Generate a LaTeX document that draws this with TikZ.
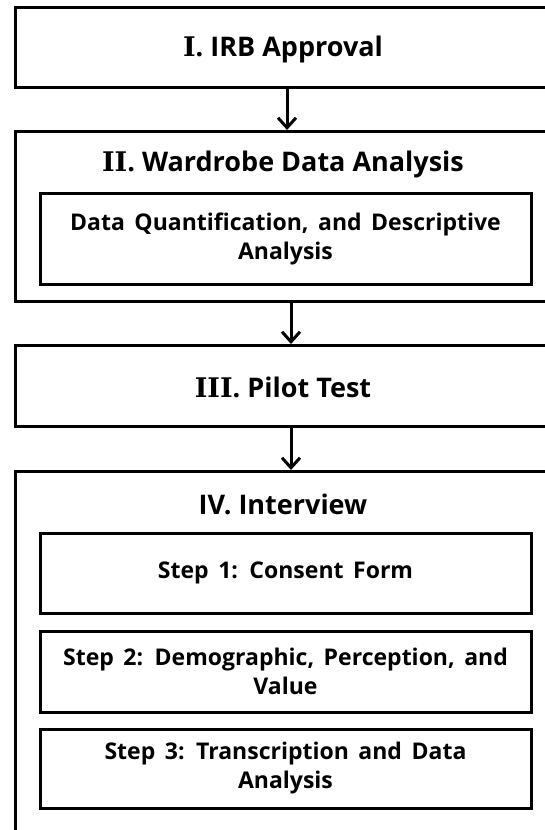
\documentclass[tikz,border=0pt]{standalone}
\usepackage{fontspec}
\setmainfont{Open Sans}
\newfontfamily\widefont{Open Sans}[WordSpace=1.6]
\newfontfamily\numfont{DejaVu Serif}
\usetikzlibrary{arrows.meta}
\newcommand{\rnum}[1]{{\numfont\bfseries #1}}
\begin{document}
\begin{tikzpicture}[x=1pt,y=-1pt,
  stage/.style={draw, line width=3pt, rectangle, inner sep=0pt,
    anchor=north west, minimum width=560pt},
  substage/.style={draw, line width=3pt, rectangle, inner sep=0pt,
    minimum width=491pt, align=center, font=\widefont\bfseries\fontsize{23}{29}\selectfont},
  stagetitle/.style={anchor=base, inner sep=0pt, font=\bfseries\fontsize{27}{32}\selectfont},
  flow/.style={line width=3pt, -{Straight Barb[length=10pt,width=18pt]}}]
\useasboundingbox (0,0) rectangle (545,830);
\fill[white] (0,0) rectangle (545,830);
\clip (0,0) rectangle (545,830);

% outer stages (they run past the right and bottom edges)
\node[stage, minimum height=80pt]  (s1) at (13.5,6)   {};
\node[stage, minimum height=170pt] (s2) at (13.5,130) {};
\node[stage, minimum height=81pt]  (s3) at (13.5,344) {};
\node[stage, minimum height=380pt] (s4) at (13.5,470) {};

% stage titles
\node[stagetitle] (t1) at (283,56)  {\rnum{I}. IRB Approval};
\node[stagetitle] (t2) at (283,171) {\rnum{II}. Wardrobe Data Analysis};
\node[stagetitle] (t3) at (283,397) {\rnum{III}. Pilot Test};
\node[stagetitle] (t4) at (283,514) {IV. Interview};

% inner boxes
\node[substage, minimum height=91pt] (dq) at (285.5,238.5)
  {Data Quantification, and Descriptive\\Analysis};
\node[substage, minimum height=80pt] (st1) at (285.5,573) {Step 1: Consent Form};
\node[substage, minimum height=81pt] (st2) at (285.5,671.5)
  {Step 2: Demographic, Perception, and\\Value};
\node[substage, minimum height=79pt] (st3) at (285.5,768.5)
  {Step 3: Transcription and Data\\Analysis};

% connectors
\coordinate (ax1) at (287,0);
\coordinate (ax2) at (291,0);
\draw[flow] (s1.south -| ax1) -- (s2.north -| ax1);
\draw[flow] (s2.south -| ax2) -- (s3.north -| ax2);
\draw[flow] (s3.south -| ax2) -- (s4.north -| ax2);
\end{tikzpicture}
\end{document}
